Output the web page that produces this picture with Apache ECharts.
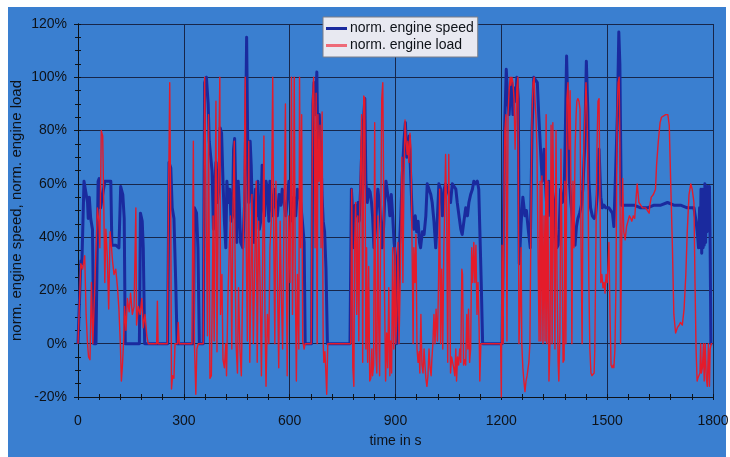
<!DOCTYPE html>
<html>
<head>
<meta charset="utf-8">
<title>norm. engine speed / load</title>
<script src="https://cdn.jsdelivr.net/npm/echarts/dist/echarts.min.js"></script>
<style>
  html, body { margin: 0; padding: 0; background: #ffffff; }
  #frame { position: absolute; left: 8px; top: 7px; width: 718px; height: 450px; background: #3a7fd0; }
  #chart { position: absolute; left: 0; top: 0; width: 730px; height: 457px; }
</style>
</head>
<body>
<div id="frame"></div>
<div id="chart"></div>
<script>
// Time axis (s) and normalised value axis (%)
const timeTicks = [0, 300, 600, 900, 1200, 1500, 1800];
const valueTicks = [-20, 0, 20, 40, 60, 80, 100, 120];
const seriesNames = ['norm. engine speed', 'norm. engine load'];
const yAxisTitle = 'norm. engine speed, norm. engine load';
const xAxisTitle = 'time in s';

// [time in s, normalised engine speed in %]
const speedData = [
  [0,0],[8,31],[11,30],[17,61],[22,61],[27,53],[29,47],[32,55],[36,47],[41,43],[45,0],[51,0],
  [57,61],[60,62],[64,51],[70,56],[76,61],[83,61],[93,61],[96,37],[107,37],[116,36],[121,59],
  [127,56],[131,47],[134,0],[174,0],[177,49],[182,46],[185,36],[189,0],
  [254,0],[258,68],[263,66],[267,51],[272,47],[277,23],[281,0],[327,0],[330,51],[336,49],
  [340,36],[344,0],[355,0],[359,98],[364,100],[369,90],[372,76],[376,76],[380,65],[384,43],
  [387,58],[391,68],[395,53],[399,58],[403,81],[407,79],[411,61],[415,46],[419,36],[422,61],
  [426,53],[430,58],[434,46],[438,48],[441,73],[444,77],[447,58],[450,38],[454,61],[457,53],
  [461,38],[467,36],[473,55],[478,115],[481,76],[484,53],[488,76],[491,67],[495,46],[499,38],
  [503,58],[507,48],[510,61],[514,43],[518,46],[522,67],[525,53],[529,48],[533,61],[537,58],
  [541,46],[544,61],[548,53],[552,48],[556,58],[560,53],[565,48],[570,56],[575,52],[579,58],
  [584,53],[589,48],[593,53],[598,61],[603,53],[608,46],[612,55],[617,48],[622,58],[627,56],
  [631,53],[636,46],[641,38],[644,0],[662,0],[666,90],[669,98],[673,86],[677,102],[680,73],
  [684,86],[688,73],[692,55],[695,46],[699,42],[703,28],[707,0],[771,0],[775,58],[779,48],
  [782,36],[786,52],[790,48],[794,53],[797,46],[801,58],[805,76],[809,83],[813,92],[816,61],
  [820,53],[824,58],[828,57],[832,53],[835,48],[839,36],[843,43],[847,53],[850,58],[854,53],
  [858,46],[862,36],[866,43],[869,53],[873,61],[877,61],[881,53],[884,48],[888,56],[892,48],
  [896,38],[900,33],[903,0],[908,0],[911,36],[915,48],[919,63],[924,76],[928,83],[932,70],
  [935,73],[939,78],[943,63],[948,46],[952,43],[956,48],[960,42],[964,46],[968,38],[971,36],
  [976,42],[981,41],[986,48],[990,60],[995,58],[1000,56],[1004,53],[1009,46],[1014,36],
  [1019,48],[1023,60],[1028,58],[1033,48],[1038,58],[1042,60],[1047,58],[1052,56],[1056,53],
  [1061,60],[1066,60],[1071,58],[1075,53],[1080,48],[1085,43],[1089,41],[1094,46],[1099,51],
  [1104,48],[1108,53],[1113,56],[1118,58],[1122,61],[1127,60],[1132,61],[1136,58],[1139,43],
  [1143,23],[1147,0],[1202,0],[1206,48],[1209,80],[1214,103],[1218,92],[1222,86],[1225,93],
  [1229,98],[1233,86],[1237,96],[1241,91],[1244,100],[1248,92],[1251,30],[1256,45],[1261,55],
  [1267,48],[1271,50],[1277,42],[1282,36],[1287,80],[1292,100],[1297,100],[1302,98],[1306,86],
  [1311,73],[1316,61],[1321,73],[1325,61],[1330,48],[1335,61],[1340,48],[1344,58],[1349,53],
  [1353,42],[1357,36],[1361,37],[1364,43],[1368,58],[1373,53],[1378,56],[1381,76],[1385,108],
  [1389,86],[1393,61],[1397,53],[1401,48],[1406,41],[1409,37],[1413,44],[1417,47],[1422,49],
  [1427,52],[1431,58],[1436,73],[1441,106],[1445,88],[1448,61],[1453,51],[1458,48],[1463,47],
  [1467,48],[1472,56],[1477,73],[1482,55],[1486,51],[1491,52],[1496,51],[1500,51],[1505,51],
  [1510,51],[1515,49],[1519,44],[1524,44],[1529,86],[1533,117],[1536,105],[1540,52],[1548,52],
  [1557,52],[1567,52],[1576,52],[1595,51],[1614,51],[1633,52],[1652,52],[1671,53],[1689,52],
  [1708,52],[1727,51],[1746,51],[1752,46],[1756,41],[1759,36],[1762,51],[1764,36],[1766,58],
  [1768,34],[1770,58],[1772,36],[1774,58],[1775,37],[1777,60],[1779,38],[1781,59],[1783,42],
  [1785,59],[1787,46],[1790,59],[1792,36],[1794,0],[1798,0]
];

// [time in s, normalised engine load in %]
const loadData = [
  [0,0],[2,0],[8,30],[13,28],[19,33],[23,11],[27,0],[30,-5],[34,-6],[38,23],[42,0],[47,0],
  [55,51],[59,46],[62,36],[66,80],[70,78],[73,53],[76,23],[79,43],[83,33],[87,13],[91,42],
  [95,36],[98,31],[102,26],[107,28],[112,21],[116,13],[120,0],[123,-14],[126,-8],[129,0],
  [132,14],[136,5],[140,17],[145,12],[149,19],[154,11],[159,14],[164,51],[166,7],[171,14],
  [176,11],[181,17],[185,6],[190,11],[195,3],[199,0],[223,0],[225,16],[227,0],[253,0],
  [256,46],[260,98],[263,46],[265,-17],[268,-12],[272,-13],[275,0],[282,0],[284,8],[287,0],
  [323,0],[327,76],[330,0],[334,-19],[337,-2],[341,0],[355,0],[359,100],[364,100],[367,3],
  [370,86],[374,-13],[378,-12],[383,48],[386,1],[391,91],[394,-3],[398,61],[402,100],[404,11],
  [408,26],[411,-6],[415,-9],[419,0],[421,-12],[425,17],[429,36],[432,48],[436,-2],[439,48],
  [443,76],[445,36],[448,0],[452,-11],[455,21],[459,-2],[463,-12],[467,23],[471,61],[474,100],
  [477,36],[480,1],[484,76],[487,-7],[490,23],[493,56],[497,0],[501,29],[505,61],[508,-7],
  [512,46],[516,23],[520,-12],[524,38],[527,78],[530,11],[533,-16],[537,11],[541,0],[544,36],
  [548,46],[552,100],[555,36],[558,0],[561,61],[565,26],[569,-9],[573,46],[576,21],[580,-2],
  [584,48],[588,90],[591,21],[593,-12],[597,48],[601,23],[605,100],[608,11],[610,36],[613,100],
  [616,23],[619,-14],[622,26],[626,-2],[628,100],[631,36],[634,86],[637,1],[641,-2],[644,0],
  [661,0],[665,92],[668,100],[670,80],[672,36],[675,94],[678,0],[680,86],[683,61],[686,82],
  [689,36],[692,87],[695,0],[697,-7],[700,-3],[703,-12],[705,-19],[708,0],[773,0],[776,58],
  [779,-9],[782,-16],[784,36],[787,53],[790,11],[793,48],[796,1],[799,51],[801,67],[804,86],
  [807,-7],[810,93],[813,92],[816,-2],[818,36],[821,-7],[824,29],[827,-14],[830,-13],[833,-2],
  [835,-12],[838,-8],[841,83],[844,-2],[847,-11],[850,48],[852,11],[855,-12],[858,43],[861,92],
  [864,98],[867,48],[869,17],[872,-14],[875,4],[878,-9],[881,21],[884,-12],[886,1],[889,-11],
  [892,36],[895,-2],[897,17],[899,36],[901,0],[904,11],[907,38],[910,0],[913,21],[916,48],
  [918,70],[921,23],[924,61],[927,84],[930,76],[933,71],[935,76],[938,68],[941,79],[944,73],
  [947,36],[950,0],[952,36],[955,23],[958,41],[961,-2],[964,-7],[967,-3],[969,-11],[972,11],
  [975,-8],[978,-11],[981,-2],[984,-9],[986,-13],[989,-16],[992,-12],[995,-2],[998,-9],
  [1001,-12],[1003,-6],[1006,0],[1009,11],[1012,0],[1015,13],[1019,1],[1022,23],[1025,58],
  [1028,0],[1031,28],[1034,-2],[1037,36],[1039,48],[1042,71],[1045,48],[1048,-7],[1051,71],
  [1054,23],[1056,-11],[1059,-5],[1062,-7],[1065,-9],[1068,-12],[1071,-2],[1073,-14],[1076,-5],
  [1079,-8],[1082,-2],[1085,-7],[1088,28],[1090,26],[1093,-8],[1096,-6],[1099,-8],[1102,11],
  [1105,-2],[1107,13],[1110,-7],[1113,-2],[1116,36],[1119,23],[1122,38],[1125,23],[1128,37],
  [1131,11],[1134,23],[1137,6],[1139,-14],[1142,0],[1198,0],[1200,-20],[1202,37],[1205,0],
  [1208,61],[1210,80],[1213,86],[1216,1],[1219,86],[1222,95],[1225,100],[1227,97],[1230,100],
  [1233,98],[1236,92],[1239,73],[1242,86],[1244,96],[1247,100],[1250,0],[1253,13],[1256,36],
  [1258,0],[1261,-9],[1264,-14],[1267,-18],[1270,-14],[1273,-12],[1276,-9],[1278,-7],[1281,0],
  [1284,48],[1287,86],[1290,98],[1293,100],[1295,92],[1298,86],[1301,73],[1304,36],[1307,1],
  [1310,61],[1312,1],[1315,63],[1318,0],[1321,48],[1324,1],[1327,86],[1329,0],[1332,61],
  [1335,-14],[1338,1],[1341,82],[1344,0],[1346,83],[1349,40],[1352,-2],[1355,80],[1358,23],
  [1361,-7],[1363,-14],[1366,4],[1369,73],[1372,36],[1375,-7],[1378,-6],[1380,61],[1383,0],
  [1386,92],[1389,98],[1392,73],[1395,95],[1397,61],[1400,0],[1403,61],[1406,36],[1409,73],
  [1412,86],[1414,91],[1417,92],[1420,91],[1423,88],[1426,36],[1429,0],[1431,48],[1434,73],
  [1437,86],[1440,98],[1443,86],[1446,61],[1448,23],[1451,-2],[1454,-11],[1457,-12],[1460,-12],
  [1463,-11],[1465,-2],[1468,36],[1471,73],[1474,91],[1477,92],[1480,48],[1482,23],[1485,26],
  [1488,21],[1491,23],[1494,19],[1497,26],[1500,23],[1502,28],[1505,38],[1508,11],[1511,-8],
  [1514,-9],[1517,-8],[1519,-9],[1522,-2],[1525,23],[1528,86],[1531,98],[1534,100],[1536,73],
  [1538,0],[1541,36],[1544,62],[1547,42],[1551,39],[1555,44],[1559,46],[1563,48],[1567,47],
  [1570,46],[1574,48],[1578,47],[1581,53],[1585,60],[1590,53],[1595,52],[1600,51],[1604,51],
  [1609,51],[1614,51],[1619,49],[1621,52],[1625,55],[1631,56],[1637,58],[1640,67],[1645,76],
  [1650,83],[1654,85],[1659,85],[1666,86],[1672,86],[1676,82],[1680,61],[1685,36],[1689,11],
  [1694,4],[1699,6],[1704,7],[1708,8],[1713,7],[1718,13],[1723,26],[1727,42],[1732,56],
  [1737,60],[1741,58],[1746,53],[1749,23],[1752,-2],[1755,-14],[1757,-13],[1760,-12],
  [1763,-11],[1765,0],[1767,-11],[1770,-9],[1773,0],[1775,-14],[1778,0],[1781,-13],[1784,-16],
  [1787,0],[1790,-16],[1792,-2],[1795,0],[1798,0]
];

const FONT = '"Liberation Sans", Arial, Helvetica, sans-serif';
const INK = '#0e1218';
const GRID_LINE = '#17264a';
const SPEED_COLOR = '#1a2a9e';
const LOAD_COLOR = '#e41b2b';

const tStep = timeTicks[1] - timeTicks[0];
const vStep = valueTicks[1] - valueTicks[0];
const tMin = timeTicks[0], tMax = timeTicks[timeTicks.length - 1];
const vMin = valueTicks[0], vMax = valueTicks[valueTicks.length - 1];

// main axes carry labels, grid lines and outward ticks; the twin axes add the inward half of each tick
function xAxisBase(extra) {
  return Object.assign({
    type: 'value', min: tMin, max: tMax, interval: tStep, position: 'bottom',
    axisLine: { onZero: false, lineStyle: { color: INK, width: 1 } },
    axisTick: { show: true, length: 3, lineStyle: { color: INK, width: 1 } },
    minorTick: { show: true, splitNumber: 5, length: 3, lineStyle: { color: INK, width: 1 } }
  }, extra);
}
function yAxisBase(extra) {
  return Object.assign({
    type: 'value', min: vMin, max: vMax, interval: vStep, position: 'left',
    axisLine: { onZero: false, lineStyle: { color: INK, width: 1 } },
    axisTick: { show: true, length: 4, lineStyle: { color: INK, width: 1 } },
    minorTick: { show: true, splitNumber: 4, length: 3, lineStyle: { color: INK, width: 1 } }
  }, extra);
}

const chart = echarts.init(document.getElementById('chart'), null, { renderer: 'canvas' });

chart.setOption({
  animation: false,
  backgroundColor: 'transparent',
  textStyle: { fontFamily: FONT, color: INK },
  grid: { left: 78, right: 17, top: 24, bottom: 60, containLabel: false, outerBoundsMode: 'none' },
  legend: {
    orient: 'vertical',
    left: 323, top: 17,
    backgroundColor: '#e8e9f1',
    borderColor: '#7d7f88',
    borderWidth: 1,
    borderRadius: 0,
    padding: [3, 4, 3, 3],
    itemGap: 0,
    itemWidth: 21,
    itemHeight: 3,
    textStyle: { fontFamily: FONT, fontSize: 14, color: INK, padding: [0, 0, 0, -2], lineHeight: 17 },
    data: [
      { name: seriesNames[0], icon: 'rect', itemStyle: { color: SPEED_COLOR } },
      { name: seriesNames[1], icon: 'rect', itemStyle: { color: '#ee6a78' } }
    ]
  },
  xAxis: [
    xAxisBase({
      name: xAxisTitle, nameLocation: 'middle', nameGap: 37,
      nameTextStyle: { fontFamily: FONT, fontSize: 14, color: INK },
      axisLabel: { fontFamily: FONT, fontSize: 14, color: INK, margin: 17, formatter: (v) => String(v) },
      splitLine: { show: true, lineStyle: { color: GRID_LINE, width: 1 } }
    }),
    xAxisBase({
      axisTick: { show: true, inside: true, length: 3, lineStyle: { color: INK, width: 1 } },
      axisLabel: { show: false }, splitLine: { show: false }
    })
  ],
  yAxis: [
    yAxisBase({
      name: yAxisTitle,
      nameLocation: 'middle', nameGap: 54, nameRotate: 90, nameMoveOverlap: false,
      nameTextStyle: { fontFamily: FONT, fontSize: 15, color: INK },
      axisLabel: { fontFamily: FONT, fontSize: 14, color: INK, margin: 11, formatter: (v) => v + '%' },
      splitLine: { show: true, lineStyle: { color: GRID_LINE, width: 1 } }
    }),
    yAxisBase({
      axisTick: { show: true, inside: true, length: 3, lineStyle: { color: INK, width: 1 } },
      axisLabel: { show: false }, splitLine: { show: false }
    })
  ],
  series: [
    {
      name: seriesNames[0], type: 'line', xAxisIndex: 0, yAxisIndex: 0,
      data: speedData, showSymbol: false, symbol: 'none',
      lineStyle: { color: SPEED_COLOR, width: 3, join: 'round' },
      itemStyle: { color: SPEED_COLOR }, z: 2
    },
    {
      name: seriesNames[1], type: 'line', xAxisIndex: 0, yAxisIndex: 0,
      data: loadData, showSymbol: false, symbol: 'none',
      lineStyle: { color: LOAD_COLOR, width: 1.4, join: 'round' },
      itemStyle: { color: LOAD_COLOR }, z: 3
    }
  ]
});
</script>
</body>
</html>
